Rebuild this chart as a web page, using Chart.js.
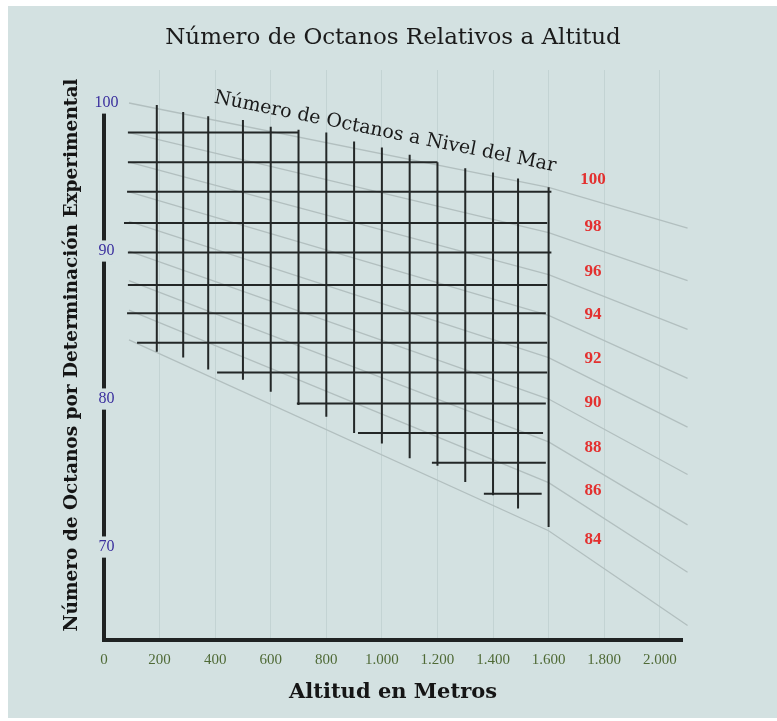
<!DOCTYPE html>
<html>
<head>
<meta charset="utf-8">
<script src="https://cdn.jsdelivr.net/npm/chart.js@4"></script>
<style>
  html, body { margin: 0; padding: 0; background: #fff; }
  #wrap { position: absolute; left: 0; top: 0; width: 777px; height: 721px; }
</style>
</head>
<body>
<div id="wrap"><canvas id="myChart"></canvas></div>
<script>
const canvas = document.getElementById('myChart')
let myChart

const BG = '#d3e1e1'

// ejes
const xTickValues = [0, 200, 400, 600, 800, 1000, 1200, 1400, 1600, 1800, 2000]
const xTickLabels = ['0', '200', '400', '600', '800', '1.000', '1.200', '1.400', '1.600', '1.800', '2.000']
const yTickValues = [70, 80, 90, 100]

// lineas grises: octanos a nivel del mar (altitud m -> octanos)
const seaLevelLabels = ['100', '98', '96', '94', '92', '90', '88', '86', '84']
const seaLevelAltitudes = [90, 1600, 2100]
const seaLevelAt90 = [100, 98, 96, 94, 92, 90, 88, 86, 84]
const seaLevelAt1600 = [94.3, 91.25, 88.4, 85.65, 82.8, 80.0, 77.1, 74.35, 71.1]
const seaLevelAt2100 = [91.55, 88.0, 84.7, 81.4, 78.1, 74.9, 71.5, 68.3, 64.7]

// cuadricula negra: lineas verticales (altitud, octanos arriba, octanos abajo)
const gridAltitudes = [190, 285, 375, 500, 600, 700, 800, 900, 1000, 1100, 1200, 1300, 1400, 1490, 1600]
const gridTop = [99.86, 99.4, 99.1, 98.85, 98.4, 98.2, 98.0, 97.4, 97.0, 96.5, 96.0, 95.6, 95.3, 94.9, 94.3]
const gridBottom = [83.2, 82.8, 82.0, 81.3, 80.5, 79.6, 78.8, 77.7, 77.0, 76.0, 75.5, 74.4, 73.5, 72.6, 71.35]

// cuadricula negra: lineas horizontales (octanos, altitud inicio, altitud fin)
const levelValues = [98, 96, 94, 91.9, 89.9, 87.7, 85.8, 83.8, 81.8, 79.7, 77.7, 75.7, 73.6]
const levelStart = [86, 86, 83, 72, 86, 86, 83, 119, 407, 694, 914, 1180, 1367]
const levelEnd = [700, 1200, 1610, 1595, 1610, 1595, 1590, 1595, 1595, 1590, 1580, 1590, 1575]

function seaLevelValue(i, alt) {
    const ys = [seaLevelAt90[i], seaLevelAt1600[i], seaLevelAt2100[i]]
    const xs = seaLevelAltitudes
    const k = alt <= xs[1] ? 0 : 1
    const t = (alt - xs[k]) / (xs[k + 1] - xs[k])
    return ys[k] + (ys[k + 1] - ys[k]) * t
}

const paper = {
    id: 'paper',
    beforeDraw(chart) {
        const ctx = chart.ctx
        ctx.save()
        ctx.fillStyle = '#ffffff'
        ctx.fillRect(0, 0, chart.width, chart.height)
        ctx.fillStyle = BG
        ctx.fillRect(8, 6, chart.width - 8, chart.height - 9)
        ctx.restore()
    },
    // el eje vertical empieza debajo de la etiqueta 100
    beforeDatasetsDraw(chart) {
        const {ctx, chartArea, scales: {y}} = chart
        const labelTop = y.getPixelForValue(yTickValues[yTickValues.length - 1]) - 9
        ctx.save()
        ctx.fillStyle = BG
        ctx.fillRect(chartArea.left - 4, chartArea.top - 3, 8, labelTop - chartArea.top + 3)
        ctx.restore()
    }
}

const annotations = {
    id: 'annotations',
    afterDatasetsDraw(chart) {
        const {ctx, scales: {x, y}} = chart
        ctx.save()

        // etiquetas rojas de las lineas de nivel del mar
        ctx.font = 'bold 17px "Liberation Serif"'
        ctx.fillStyle = '#e3302f'
        ctx.textAlign = 'center'
        ctx.textBaseline = 'middle'
        seaLevelLabels.forEach((t, i) => {
            const alt = 1760
            ctx.fillText(t, x.getPixelForValue(alt), y.getPixelForValue(seaLevelValue(i, alt)) - 21)
        })

        // texto inclinado sobre la linea de 100
        const x0 = x.getPixelForValue(seaLevelAltitudes[0])
        const y0 = y.getPixelForValue(seaLevelAt90[0])
        const x1 = x.getPixelForValue(seaLevelAltitudes[1])
        const y1 = y.getPixelForValue(seaLevelAt1600[0])
        const angle = Math.atan2(y1 - y0, x1 - x0)
        const t = 0.6
        const cx = x0 + (x1 - x0) * t + 22 * Math.sin(angle)
        const cy = y0 + (y1 - y0) * t - 22 * Math.cos(angle)
        ctx.translate(cx, cy)
        ctx.rotate(angle)
        ctx.font = '19px "DejaVu Serif"'
        ctx.fillStyle = '#1a1a1a'
        ctx.fillText('Número de Octanos a Nivel del Mar', 0, 0)
        ctx.restore()
    }
}

function createChart() {
    const blackLine = {borderColor: '#232727', borderWidth: 2, pointRadius: 0, showLine: true, clip: false}

    const verticals = gridAltitudes.map((alt, i) => ({
        ...blackLine,
        data: [{x: alt, y: gridTop[i]}, {x: alt, y: gridBottom[i]}]
    }))
    const horizontals = levelValues.map((v, i) => ({
        ...blackLine,
        data: [{x: levelStart[i], y: v}, {x: levelEnd[i], y: v}]
    }))
    const seaLines = seaLevelLabels.map((label, i) => ({
        label: label,
        borderColor: '#b2bfbf',
        borderWidth: 1.3,
        pointRadius: 0,
        showLine: true,
        clip: false,
        data: seaLevelAltitudes.map((alt, k) => ({
            x: alt,
            y: [seaLevelAt90[i], seaLevelAt1600[i], seaLevelAt2100[i]][k]
        }))
    }))

    const config = {
        type: 'scatter',
        data: {
            datasets: [...verticals, ...horizontals, ...seaLines]
        },
        options: {
            responsive: true,
            maintainAspectRatio: false,
            animation: false,
            events: [],
            layout: {
                padding: {left: 50, right: 95, top: 0, bottom: 15.4}
            },
            plugins: {
                legend: {display: false},
                tooltip: {enabled: false},
                title: {
                    display: true,
                    fullSize: false,
                    text: 'Número de Octanos Relativos a Altitud',
                    color: '#1b1b1b',
                    font: {family: '"DejaVu Serif"', size: 23, weight: 'normal'},
                    padding: {top: 24.2, bottom: 18.2}
                }
            },
            scales: {
                x: {
                    type: 'linear',
                    min: 0,
                    max: 2080,
                    afterBuildTicks: s => { s.ticks = xTickValues.map(v => ({value: v})) },
                    afterFit: s => { s.height = 65.6 },
                    ticks: {
                        callback: (v, i) => xTickLabels[i],
                        color: '#4f6a36',
                        font: {family: '"Liberation Serif"', size: 15},
                        padding: 11,
                        maxRotation: 0,
                        autoSkip: false
                    },
                    grid: {drawTicks: false, color: 'rgba(90,120,120,0.13)', lineWidth: 1},
                    border: {color: '#1f2222', width: 4},
                    title: {
                        display: true,
                        text: 'Altitud en Metros',
                        color: '#151515',
                        font: {family: '"DejaVu Serif"', size: 21, weight: 'bold'},
                        padding: {top: 0, bottom: 0}
                    }
                },
                y: {
                    type: 'linear',
                    min: 63.72,
                    max: 102.23,
                    afterBuildTicks: s => { s.ticks = yTickValues.map(v => ({value: v})) },
                    afterFit: s => { s.width = 54 },
                    ticks: {
                        color: '#3a2f9e',
                        font: {family: '"Liberation Serif"', size: 16},
                        mirror: true,
                        crossAlign: 'center',
                        padding: -9.5,
                        showLabelBackdrop: true,
                        backdropColor: BG,
                        backdropPadding: 1
                    },
                    grid: {display: false, drawTicks: false},
                    border: {color: '#1f2222', width: 4},
                    title: {
                        display: true,
                        text: 'Número de Octanos por Determinación Experimental',
                        color: '#151515',
                        font: {family: '"DejaVu Serif"', size: 18.5, weight: 'bold'},
                        padding: {top: 11, bottom: 0}
                    }
                }
            }
        },
        plugins: [paper, annotations]
    }

    myChart = new Chart(canvas, config)
}

createChart()
</script>
</body>
</html>
